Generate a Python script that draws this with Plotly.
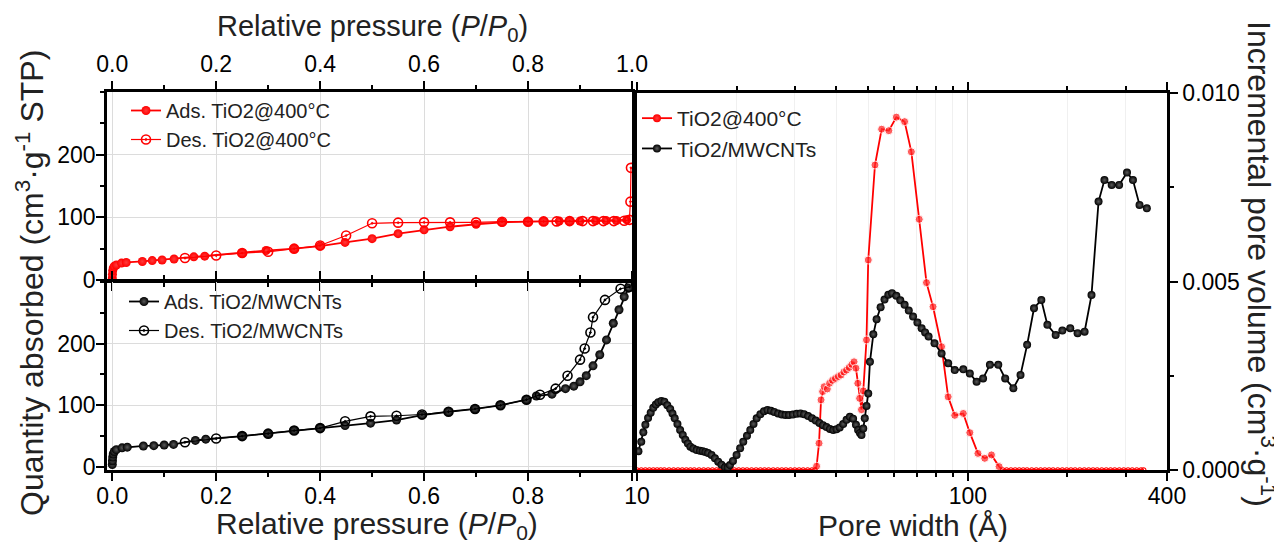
import plotly.graph_objects as go

# ---------------- data ----------------
# TiO2@400°C isotherm
tio2_ads_p = [0.0002, 0.0005, 0.001, 0.002, 0.004, 0.008, 0.018, 0.027, 0.058, 0.077, 0.096, 0.119, 0.157,
              0.178, 0.25, 0.296, 0.35, 0.40, 0.448, 0.50, 0.55, 0.60, 0.65, 0.70, 0.75, 0.80, 0.83, 0.86,
              0.88, 0.90, 0.93, 0.95, 0.97, 0.99]
tio2_ads_q = [3, 9, 15, 19, 22, 24, 27, 28, 29.6, 31, 32, 33.5, 37, 38, 43, 47, 50, 54, 60, 66, 74, 80, 85,
              89, 92, 93, 93.5, 94, 94, 94, 94.5, 95, 95, 96]
tio2_des_p = [0.998, 0.997, 0.995, 0.985, 0.965, 0.945, 0.925, 0.905, 0.88, 0.855, 0.83, 0.80, 0.75, 0.70,
              0.65, 0.60, 0.55, 0.50, 0.45, 0.40, 0.35, 0.30, 0.25, 0.20, 0.14]
tio2_des_q = [179, 125, 96, 94.5, 94, 94, 94, 94, 94, 93.5, 93.5, 93, 93, 92, 92, 92, 91.5, 90.5, 71, 55,
              50, 45, 43, 39, 35]

# TiO2/MWCNTs isotherm
cnt_ads_p = [0.0002, 0.0005, 0.001, 0.002, 0.004, 0.008, 0.019, 0.029, 0.06, 0.08, 0.10, 0.118, 0.16, 0.18,
             0.25, 0.30, 0.35, 0.40, 0.448, 0.497, 0.547, 0.596, 0.647, 0.698, 0.747, 0.797, 0.816, 0.846,
             0.872, 0.888, 0.90, 0.912, 0.925, 0.938, 0.951, 0.964, 0.975, 0.985, 0.993]
cnt_ads_q = [4, 10, 16, 21, 25, 28, 31, 32, 34, 34.5, 35.5, 36.5, 43, 45, 50, 54, 59, 63, 67, 71, 76, 84,
             89.5, 94, 100, 109, 115, 118, 127, 131, 138, 148, 164, 182, 206, 233, 255, 276, 290]
cnt_des_p = [0.995, 0.978, 0.948, 0.925, 0.92, 0.909, 0.90, 0.876, 0.853, 0.823, 0.797, 0.747, 0.698, 0.647,
             0.596, 0.547, 0.497, 0.448, 0.40, 0.35, 0.30, 0.25, 0.20, 0.14]
cnt_des_q = [292, 289, 271, 243, 218, 192, 174, 148, 127, 117, 109, 100, 94, 89.5, 85, 83, 82, 74, 63, 59,
             54, 50, 46, 40]

# Pore size distribution, TiO2@400°C
psd_tio2_w = [10.0, 10.3, 10.6, 10.9, 11.2, 11.5, 11.8, 12.1, 12.5, 12.9, 13.3, 13.7, 14.1, 14.5, 14.9,
              15.4, 15.9, 16.4, 16.9, 17.4, 17.9, 18.5, 19.1, 19.7, 20.3, 20.9, 21.5, 22.2, 22.9, 23.6,
              24.3, 25.0, 25.8, 26.6, 27.4, 28.2, 29.1, 30.0, 30.9, 31.8, 32.8, 33.8, 34.5,
              34.9, 35.5, 36.0, 36.4, 36.8, 37.6, 38.2, 39.0, 39.8, 40.6, 41.4, 42.2, 43.0, 43.8, 44.6,
              45.3, 45.9, 46.5, 47.1, 47.7, 48.3, 49.4, 50.0, 52.4, 54.9, 57.7, 60.8, 64.4, 67.5, 71.3,
              75.0, 78.5, 83.3, 87.2, 91.3, 96.9, 101.4, 107.3, 112.5, 117.9, 124.3, 127.6,
              131, 135, 139, 143, 147, 151, 156, 161, 166, 171, 176, 181, 187, 193, 199, 205, 211, 218,
              225, 232, 239, 246, 254, 262, 270, 278, 287, 296, 305, 314, 324, 334, 340]
psd_tio2_v = [0.0] * 43 + [
    0.0001, 0.00071, 0.00186, 0.00208, 0.00221, 0.00215, 0.0023, 0.00238, 0.00243, 0.00248, 0.00252,
    0.0026, 0.00265, 0.00272, 0.0028, 0.00287, 0.0027, 0.0023, 0.0019, 0.0016, 0.0021, 0.00345, 0.00557,
    0.00809, 0.00904, 0.0090, 0.00936, 0.00924, 0.00844, 0.00665, 0.00497, 0.00433, 0.00327, 0.00194,
    0.00145, 0.0015, 0.00099, 0.00044, 0.00031, 0.0004, 0.00009, 0.0] + [0.0] * 33

# Pore size distribution, TiO2/MWCNTs
psd_cnt_w = [10.1, 10.3, 10.45, 10.6, 10.8, 11.0, 11.2, 11.4, 11.6, 11.85, 12.1, 12.35, 12.6, 12.8, 13.0,
             13.25, 13.5, 13.75, 14.0, 14.25, 14.5, 14.8, 15.15, 15.5, 15.8, 16.1, 16.4, 16.8, 17.2, 17.6,
             18.0, 18.45, 18.8, 19.1, 19.5, 20.0, 20.5, 20.95, 21.5, 22.0, 22.5, 23.0, 23.6, 24.2, 24.8,
             25.4, 26.0, 26.7, 27.4, 28.1, 28.8, 29.6, 30.4, 31.2, 32.0, 32.9, 33.8, 34.7, 35.6, 36.5,
             37.4, 38.3, 39.2, 40.1, 41.0, 42.0, 43.0, 44.0, 45.0, 45.9, 46.6, 47.2, 47.7, 48.3, 48.8,
             49.4, 50.0, 50.6, 51.8, 53.0, 54.5, 56.0, 57.5, 59.0, 60.8, 62.5, 64.4, 66.3, 68.3, 70.4,
             72.5, 74.3, 76.1, 79.3, 83.3, 87.2, 91.3, 96.9, 101.4, 106.3, 111.2, 116.6, 123.6, 129.7,
             137.3, 144.3, 151.1, 158.5, 166.8, 174.0, 184.3, 193.1, 204.0, 214.7, 225.4, 236.5, 248.4,
             258.8, 272.2, 286.6, 302.8, 315.6, 330.4, 347.6]
psd_cnt_v = [0.00050, 0.00075, 0.00100, 0.00120, 0.00138, 0.00152, 0.00165, 0.00174, 0.00180, 0.00183,
             0.00181, 0.00172, 0.00162, 0.00150, 0.00137, 0.00122, 0.00106, 0.00093, 0.00080, 0.00070,
             0.00062, 0.00057, 0.00053, 0.00051, 0.00050, 0.00048, 0.00045, 0.00040, 0.00031, 0.00022,
             0.00014, 0.00007, 0.00006, 0.00013, 0.00024, 0.00040, 0.00058, 0.00075, 0.00091, 0.00106,
             0.00122, 0.00137, 0.00148, 0.00156, 0.00159, 0.00157, 0.00154, 0.00150, 0.00147, 0.00146,
             0.00146, 0.00147, 0.00149, 0.00150, 0.00148, 0.00143, 0.00137, 0.00131, 0.00125, 0.00119,
             0.00114, 0.00109, 0.00106, 0.00108, 0.00113, 0.00122, 0.00133, 0.00141, 0.00136, 0.00120,
             0.00106, 0.00098, 0.00093, 0.00110, 0.00137, 0.00170, 0.00203, 0.00287, 0.00360, 0.00400,
             0.00432, 0.00452, 0.00465, 0.00469, 0.00462, 0.00450, 0.00438, 0.00423, 0.00407, 0.00391,
             0.00376, 0.00365, 0.00354, 0.00336, 0.00309, 0.00283, 0.00265, 0.00267, 0.00256, 0.00234,
             0.00243, 0.00279, 0.00279, 0.00243, 0.00217, 0.00252, 0.00332, 0.00429, 0.00451, 0.00385,
             0.00358, 0.00370, 0.00376, 0.00363, 0.00367, 0.00464, 0.00712, 0.00769, 0.00756, 0.00756,
             0.00789, 0.00769, 0.00703, 0.00694]

p_ticks = [0.0, 0.2, 0.4, 0.6, 0.8, 1.0]
q_ticks = [0, 100, 200]
w_ticks = [10, 100, 400]
w_minor = [20, 30, 40, 50, 60, 70, 80, 90, 200, 300]
v_ticks = [0.0, 0.005, 0.010]

# ---------------- figure ----------------
W, H = 1282, 554
OFF = 8  # page body margin of the html page
FONT = "Liberation Sans, Arial, sans-serif"
RED = "#ff0000"
RED_HI = "#ff3a3a"
BLK_HI = "#5a5a5a"


def px(x):
    return (x - OFF) / W


def py(y):
    return 1 - (y - OFF) / H


fig = go.Figure()

# top-left panel
fig.add_trace(go.Scatter(x=tio2_ads_p, y=tio2_ads_q, mode="lines+markers", name="Ads. TiO2@400°C",
                         line=dict(color=RED, width=1.8),
                         marker=dict(symbol="circle", size=9, color=RED,
                                     gradient=dict(type="radial", color=RED_HI)),
                         xaxis="x", yaxis="y", legend="legend"))
fig.add_trace(go.Scatter(x=tio2_des_p, y=tio2_des_q, mode="lines+markers", name="Des. TiO2@400°C",
                         line=dict(color=RED, width=1.2),
                         marker=dict(symbol="circle-open-dot", size=9, color=RED, line=dict(width=1.6)),
                         xaxis="x", yaxis="y", legend="legend"))
# bottom-left panel
fig.add_trace(go.Scatter(x=cnt_ads_p, y=cnt_ads_q, mode="lines+markers", name="Ads. TiO2/MWCNTs",
                         line=dict(color="black", width=1.8),
                         marker=dict(symbol="circle", size=9, color="black",
                                     gradient=dict(type="radial", color=BLK_HI)),
                         xaxis="x2", yaxis="y2", legend="legend2"))
fig.add_trace(go.Scatter(x=cnt_des_p, y=cnt_des_q, mode="lines+markers", name="Des. TiO2/MWCNTs",
                         line=dict(color="black", width=1.2),
                         marker=dict(symbol="circle-open-dot", size=9, color="black", line=dict(width=1.6)),
                         xaxis="x2", yaxis="y2", legend="legend2"))

# right panel
zero_w = [w for w, v in zip(psd_tio2_w, psd_tio2_v) if v == 0]
zero_v = [v for v in psd_tio2_v if v == 0]
red_sizes = [0 if v == 0 else 8 for v in psd_tio2_v]
fig.add_trace(go.Scatter(x=psd_tio2_w, y=psd_tio2_v, mode="lines+markers", showlegend=False,
                         line=dict(color=RED, width=1.8),
                         marker=dict(symbol="circle", size=red_sizes, color=RED,
                                     gradient=dict(type="radial", color=RED_HI)),
                         xaxis="x3", yaxis="y3"))
fig.add_trace(go.Scatter(x=zero_w, y=zero_v, mode="markers", showlegend=False, hoverinfo="skip",
                         marker=dict(symbol="circle-open", size=4.5, color=RED, line=dict(width=1.2)),
                         xaxis="x3", yaxis="y3"))
# legend entry for the red series (no data of its own)
fig.add_trace(go.Scatter(x=[None], y=[None], mode="lines+markers", name="TiO2@400°C",
                         line=dict(color=RED, width=1.8),
                         marker=dict(symbol="circle", size=8, color=RED,
                                     gradient=dict(type="radial", color=RED_HI)),
                         xaxis="x3", yaxis="y3", legend="legend3"))
fig.add_trace(go.Scatter(x=psd_cnt_w, y=psd_cnt_v, mode="lines+markers", name="TiO2/MWCNTs",
                         line=dict(color="black", width=1.8),
                         marker=dict(symbol="circle", size=8, color="black",
                                     gradient=dict(type="radial", color=BLK_HI)),
                         xaxis="x3", yaxis="y3", legend="legend3"))

tickfont = dict(family=FONT, size=23, color="black")
GRID = "#dcdcdc"

LX0, LX1 = 107, 632
RX0, RX1 = 637, 1167

common = dict(showline=True, linecolor="black", linewidth=2.5, ticks="outside", ticklen=8, tickwidth=2,
              tickcolor="black", tickfont=tickfont, zeroline=False, automargin=False)
minor_x = dict(ticklen=4, tickwidth=1.5, tickcolor="black", ticks="outside", showgrid=False)

fig.update_layout(
    width=W, height=H,
    margin=dict(l=0, r=0, t=0, b=0),
    paper_bgcolor="white", plot_bgcolor="white",
    font=dict(family=FONT, color="black"),
    xaxis=dict(domain=[px(LX0), px(LX1)], range=[-0.01, 1.0], side="top", anchor="y",
               tickvals=p_ticks, ticktext=[f"{v:.1f}" for v in p_ticks], mirror="ticks",
               showgrid=True, gridcolor=GRID, gridwidth=1, minor=dict(dtick=0.1, **minor_x), **common),
    yaxis=dict(domain=[py(280), py(92)], range=[0, 300], anchor="x",
               tickvals=q_ticks, mirror=True, showgrid=True, gridcolor=GRID, gridwidth=1,
               ticklabelstandoff=-4, minor=dict(dtick=50, **minor_x), **common),
    xaxis2=dict(domain=[px(LX0), px(LX1)], range=[-0.01, 1.0], anchor="y2",
                tickvals=p_ticks, ticktext=[f"{v:.1f}" for v in p_ticks[:-1]] + [""], mirror="ticks",
                showgrid=True, gridcolor=GRID, gridwidth=1, ticklabelstandoff=-4,
                minor=dict(dtick=0.1, **minor_x), **common),
    yaxis2=dict(domain=[py(470), py(282)], range=[-5, 300], anchor="x2",
                tickvals=q_ticks, mirror=True, showgrid=True, gridcolor=GRID, gridwidth=1,
                ticklabelstandoff=-4, minor=dict(dtick=50, **minor_x), **common),
    xaxis3=dict(domain=[px(RX0), px(RX1)], type="log", range=[1, 2.60206], anchor="y3",
                tickvals=w_ticks, ticktext=[str(v) for v in w_ticks], mirror="ticks",
                showgrid=True, gridcolor="#e6e6e6", gridwidth=1, ticklabelstandoff=-4,
                minor=dict(tickvals=w_minor, ticklen=4, tickwidth=1.5, tickcolor="black", ticks="outside",
                           showgrid=True, gridcolor="#f0f0f0", gridwidth=1), **common),
    yaxis3=dict(domain=[py(470), py(93)], range=[0, 0.010], anchor="x3", side="right",
                tickvals=v_ticks, ticktext=["0.000", "0.005", "0.010"], mirror=True, showgrid=False,
                minor=dict(dtick=0.0025, ticklen=4, tickwidth=1.5, tickcolor="black", ticks="outside"),
                **common),
    legend=dict(x=px(126), y=py(91), xanchor="left", yanchor="top", bgcolor="rgba(0,0,0,0)",
                font=dict(family=FONT, size=20, color="#222"), tracegroupgap=0, itemwidth=30),
    legend2=dict(x=px(124), y=py(282), xanchor="left", yanchor="top", bgcolor="rgba(0,0,0,0)",
                 font=dict(family=FONT, size=20, color="#222"), tracegroupgap=0, itemwidth=30),
    legend3=dict(x=px(637), y=py(98), xanchor="left", yanchor="top", bgcolor="rgba(0,0,0,0)",
                 font=dict(family=FONT, size=21, color="#222"), tracegroupgap=0, itemwidth=30),
    showlegend=True,
)

title_font = dict(family=FONT, size=29, color="#222")
vtitle_font = dict(family=FONT, size=32, color="#222")
fig.add_annotation(x=px(372), y=py(28), xref="paper", yref="paper", showarrow=False,
                   text="Relative pressure (<i>P</i>/<i>P</i><sub>0</sub>)", font=title_font,
                   xanchor="center", yanchor="middle")
fig.add_annotation(x=px(377), y=py(525), xref="paper", yref="paper", showarrow=False,
                   text="Relative pressure (<i>P</i>/<i>P</i><sub>0</sub>)", font=dict(family=FONT, size=30, color="#222"),
                   xanchor="center", yanchor="middle")
fig.add_annotation(x=px(913), y=py(525), xref="paper", yref="paper", showarrow=False,
                   text="Pore width (Å)", font=dict(family=FONT, size=30, color="#222"),
                   xanchor="center", yanchor="middle")
fig.add_annotation(x=px(30), y=py(283), xref="paper", yref="paper", showarrow=False, textangle=-90,
                   text="Quantity absorbed (cm<sup>3</sup>·g<sup>-1</sup> STP)", font=vtitle_font,
                   xanchor="center", yanchor="middle")
fig.add_annotation(x=px(1261), y=py(264), xref="paper", yref="paper", showarrow=False, textangle=90,
                   text="Incremental pore volume (cm<sup>3</sup>·g<sup>-1</sup>)", font=vtitle_font,
                   xanchor="center", yanchor="middle")

fig.write_html("out.html")
